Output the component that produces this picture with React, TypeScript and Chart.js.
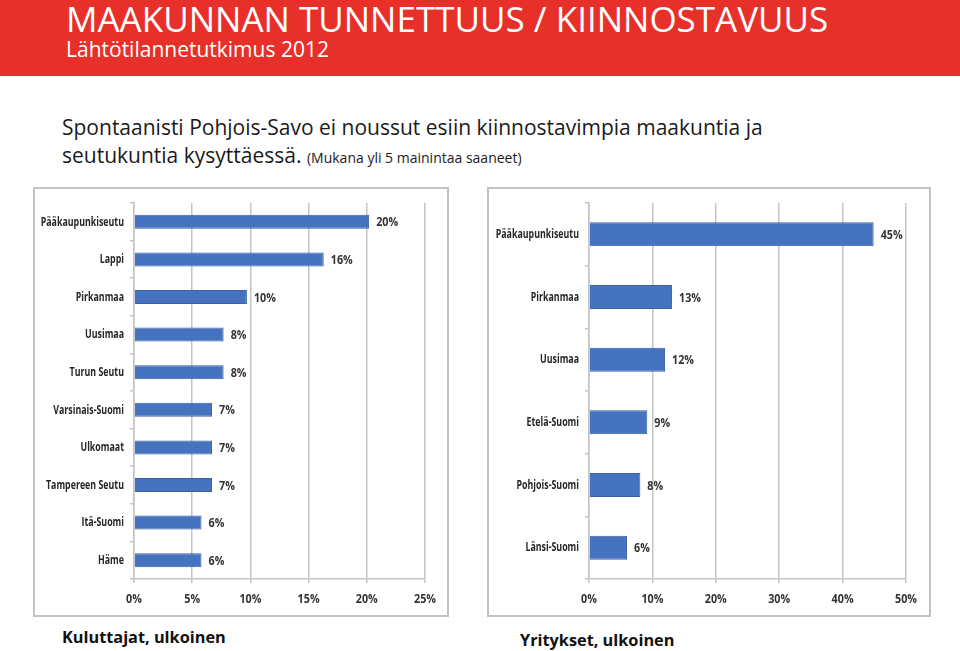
import React, { useEffect, useRef } from "react";
import { Chart, registerables } from "chart.js";

Chart.register(...registerables);

const leftCategories = ["Pääkaupunkiseutu", "Lappi", "Pirkanmaa", "Uusimaa", "Turun Seutu", "Varsinais-Suomi", "Ulkomaat", "Tampereen Seutu", "Itä-Suomi", "Häme"];
const leftValues = [20.2, 16.3, 9.7, 7.7, 7.7, 6.7, 6.7, 6.7, 5.8, 5.8];
const leftMax = 25;
const leftStep = 5;

const rightCategories = ["Pääkaupunkiseutu", "Pirkanmaa", "Uusimaa", "Etelä-Suomi", "Pohjois-Suomi", "Länsi-Suomi"];
const rightValues = [44.9, 13.1, 12.0, 9.2, 8.1, 6.0];
const rightMax = 50;
const rightStep = 10;

const titleText = "MAAKUNNAN TUNNETTUUS / KIINNOSTAVUUS";
const subtitleText = "Lähtötilannetutkimus 2012";
const bodyLine1 = "Spontaanisti Pohjois-Savo ei noussut esiin kiinnostavimpia maakuntia ja";
const bodyLine2 = "seutukuntia kysyttäessä.";
const bodyNote = "(Mukana yli 5 mainintaa saaneet)";
const leftCaption = "Kuluttajat, ulkoinen";
const rightCaption = "Yritykset, ulkoinen";

const CAT_FONT = "bold 13px 'Open Sans', sans-serif";
const CAT_SQUEEZE = 0.68;
const NUM_FONT = "bold 12.5px 'Open Sans', sans-serif";
const NUM_SQUEEZE = 0.86;
const BAR = "#4673BF";
const BAR_BORDER = "#3A62A6";
const GRID = "#C4C4C4";

function squeezedText(ctx: CanvasRenderingContext2D, text: string, x: number, y: number, align: CanvasTextAlign, sx: number) {
  ctx.save();
  ctx.translate(x, y);
  ctx.scale(sx, 1);
  ctx.textAlign = align;
  ctx.fillText(text, 0, 0);
  ctx.restore();
}

const customLabels = {
  id: "customLabels",
  afterDraw(chart: any) {
    const ctx = chart.ctx as CanvasRenderingContext2D;
    const xs = chart.scales.x;
    const ys = chart.scales.y;
    const area = chart.chartArea;
    const meta = chart.getDatasetMeta(0);
    const data = chart.data.datasets[0].data as number[];
    ctx.save();
    ctx.textBaseline = "middle";
    ctx.font = CAT_FONT;
    ctx.fillStyle = "#262626";
    ys.ticks.forEach((_t: any, i: number) => {
      squeezedText(ctx, chart.data.labels[i], area.left - 10, ys.getPixelForTick(i), "right", CAT_SQUEEZE);
    });
    ctx.font = NUM_FONT;
    ctx.fillStyle = "#333333";
    xs.ticks.forEach((t: any, i: number) => {
      squeezedText(ctx, t.value + "%", xs.getPixelForTick(i), area.bottom + 20, "center", NUM_SQUEEZE);
    });
    meta.data.forEach((bar: any, i: number) => {
      squeezedText(ctx, Math.round(data[i]) + "%", bar.x + 7, bar.y + 1, "left", NUM_SQUEEZE);
    });
    ctx.restore();
  },
};

type BarProps = {
  categories: string[];
  values: number[];
  max: number;
  step: number;
  barPct: number;
  left: number;
  top: number;
  width: number;
  height: number;
  yWidth: number;
  padRight: number;
};

function BarChart(p: BarProps) {
  const ref = useRef<HTMLCanvasElement | null>(null);
  useEffect(() => {
    if (!ref.current) return;
    const chart = new Chart(ref.current, {
      type: "bar",
      data: {
        labels: p.categories,
        datasets: [
          {
            data: p.values,
            backgroundColor: BAR,
            borderColor: BAR_BORDER,
            borderWidth: 1,
            barPercentage: p.barPct,
            categoryPercentage: 1,
          },
        ],
      },
      options: {
        indexAxis: "y",
        animation: false,
        responsive: false,
        maintainAspectRatio: false,
        layout: { padding: { top: 15, right: p.padRight, left: 0, bottom: 0 } },
        plugins: { legend: { display: false }, tooltip: { enabled: false } },
        scales: {
          x: {
            min: 0,
            max: p.max,
            ticks: { stepSize: p.step, display: false },
            grid: { color: GRID, lineWidth: 1.5, tickLength: 4, drawTicks: true },
            border: { display: true, color: GRID, width: 1.5 },
            afterFit: (s: any) => {
              s.height = 37;
            },
          },
          y: {
            ticks: { display: false },
            grid: { drawOnChartArea: false, drawTicks: true, tickLength: 4, color: GRID, lineWidth: 1.5, offset: true },
            border: { display: true, color: GRID, width: 1.5 },
            afterFit: (s: any) => {
              s.width = p.yWidth;
            },
          },
        },
      } as any,
      plugins: [customLabels],
    });
    return () => chart.destroy();
  }, []);
  return (
    <canvas
      ref={ref}
      width={p.width}
      height={p.height}
      style={{ position: "absolute", left: p.left, top: p.top, width: p.width, height: p.height }}
    />
  );
}

const FONT = "'Open Sans', 'Noto Sans', sans-serif";

export default function App() {
  return (
    <div style={{ position: "absolute", left: 0, top: 0, width: 960, height: 651, background: "#ffffff", overflow: "hidden", fontFamily: FONT }}>
      <div style={{ position: "absolute", left: 0, top: 0, width: 960, height: 76, background: "#E8302A" }} />
      <div style={{ position: "absolute", left: 66, top: 1, fontSize: 35, lineHeight: "36px", color: "#ffffff", whiteSpace: "nowrap" }}>{titleText}</div>
      <div style={{ position: "absolute", left: 66, top: 38, fontSize: 21, lineHeight: "22px", color: "#ffffff", whiteSpace: "nowrap" }}>{subtitleText}</div>

      <div style={{ position: "absolute", left: 62, top: 113, fontSize: 21, lineHeight: "28px", color: "#1a1a1a", whiteSpace: "nowrap" }}>
        {bodyLine1}
        <br />
        {bodyLine2} <span style={{ fontSize: 14 }}>{bodyNote}</span>
      </div>

      <div style={{ position: "absolute", left: 33, top: 187, width: 412, height: 426, border: "2px solid #C3C3C3" }} />
      <div style={{ position: "absolute", left: 487, top: 187, width: 440, height: 426, border: "2px solid #C3C3C3" }} />

      <BarChart categories={leftCategories} values={leftValues} max={leftMax} step={leftStep} barPct={0.372}
        left={35} top={188} width={411} height={428} yWidth={99} padRight={21} />
      <BarChart categories={rightCategories} values={rightValues} max={rightMax} step={rightStep} barPct={0.383}
        left={489} top={188} width={439} height={428} yWidth={100} padRight={22} />

      <div style={{ position: "absolute", left: 62, top: 625, fontSize: 16.3, lineHeight: "24px", fontWeight: 700, color: "#111111", whiteSpace: "nowrap" }}>{leftCaption}</div>
      <div style={{ position: "absolute", left: 520, top: 628, fontSize: 16.3, lineHeight: "24px", fontWeight: 700, color: "#111111", whiteSpace: "nowrap" }}>{rightCaption}</div>
    </div>
  );
}
